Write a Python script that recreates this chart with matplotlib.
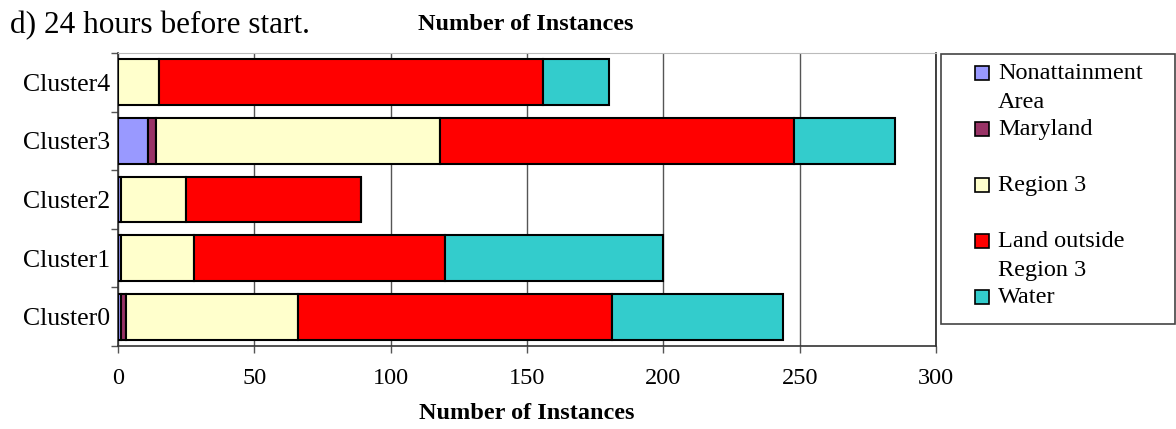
"""Stacked horizontal bar chart: instances per cluster, 24 hours before start"""
import numpy as np
import matplotlib.pyplot as plt
from matplotlib.patches import Rectangle

plt.rcParams['font.family'] = ['Liberation Serif', 'DejaVu Serif']

clusters = ['Cluster0', 'Cluster1', 'Cluster2', 'Cluster3', 'Cluster4']
series_names = ['Nonattainment\nArea', 'Maryland', 'Region 3',
                'Land outside\nRegion 3', 'Water']
nonattainment = [1, 1, 1, 11, 0]
maryland = [2, 0, 0, 3, 0]
region3 = [63, 27, 24, 104, 15]
land_outside = [115, 92, 64, 130, 141]
water = [63, 80, 0, 37, 24]
colors = ['#9999FF', '#993366', '#FFFFCC', '#FF0000', '#33CCCC']
x_ticks = [0, 50, 100, 150, 200, 250, 300]

fig = plt.figure(figsize=(11.76, 4.29), dpi=100)
ax = fig.add_axes([118 / 1176, 1 - 346 / 429, 818 / 1176, 293 / 429])

y = np.arange(len(clusters))
left = np.zeros(len(clusters))
for vals, color in zip([nonattainment, maryland, region3, land_outside, water], colors):
    vals = np.array(vals, dtype=float)
    ax.barh(y, vals, left=left, height=0.78, color=color,
            edgecolor='black', linewidth=1.5, zorder=3)
    left += vals

ax.set_xlim(0, 300)
ax.set_ylim(-0.5, len(clusters) - 0.5)
ax.set_xticks(x_ticks)
ax.set_xticklabels([str(t) for t in x_ticks], fontsize=17.5)
ax.set_yticks(y)
ax.set_yticklabels(clusters, fontsize=18.5)
ax.tick_params(axis='y', length=0, pad=6)
ax.set_yticks(np.arange(len(clusters) + 1) - 0.5, minor=True)
ax.tick_params(axis='y', which='minor', length=5, width=1, color='#555555')
ax.tick_params(axis='x', length=5, width=1, color='#555555', pad=11,
               direction='out')
ax.grid(True, axis='x', color='#555555', linewidth=1, zorder=0)
for side in ['left', 'bottom']:
    ax.spines[side].set_color('#333333')
    ax.spines[side].set_linewidth(1.2)
ax.spines['top'].set_color('#bbbbbb')
ax.spines['right'].set_color('#222222')
ax.spines['right'].set_linewidth(1.2)

ax.set_xlabel('Number of Instances', fontsize=17.5, fontweight='bold', labelpad=10)
fig.text(10 / 1176, 1 - 26 / 429, 'd) 24 hours before start.', fontsize=22.5,
         va='center', ha='left')
fig.text(526 / 1176, 1 - 24 / 429, 'Number of Instances', fontsize=17.5,
         fontweight='bold', va='center', ha='center')

# legend box drawn by hand so the marker sits beside the first text line
fig.patches.append(Rectangle((941 / 1176, 1 - 324 / 429), 234 / 1176, 270 / 429,
                             transform=fig.transFigure, facecolor='white',
                             edgecolor='#444444', linewidth=1.2))
row_y = [73, 129, 185, 241, 297]
for name, color, yy in zip(series_names, colors, row_y):
    fig.patches.append(Rectangle((975 / 1176, 1 - (yy + 7) / 429), 14 / 1176, 14 / 429,
                                 transform=fig.transFigure, facecolor=color,
                                 edgecolor='black', linewidth=1.2))
    fig.text(998 / 1176, 1 - (yy - 10) / 429, name, fontsize=17.5,
             va='top', ha='left', linespacing=1.5)

plt.savefig('out.png', dpi=100)
